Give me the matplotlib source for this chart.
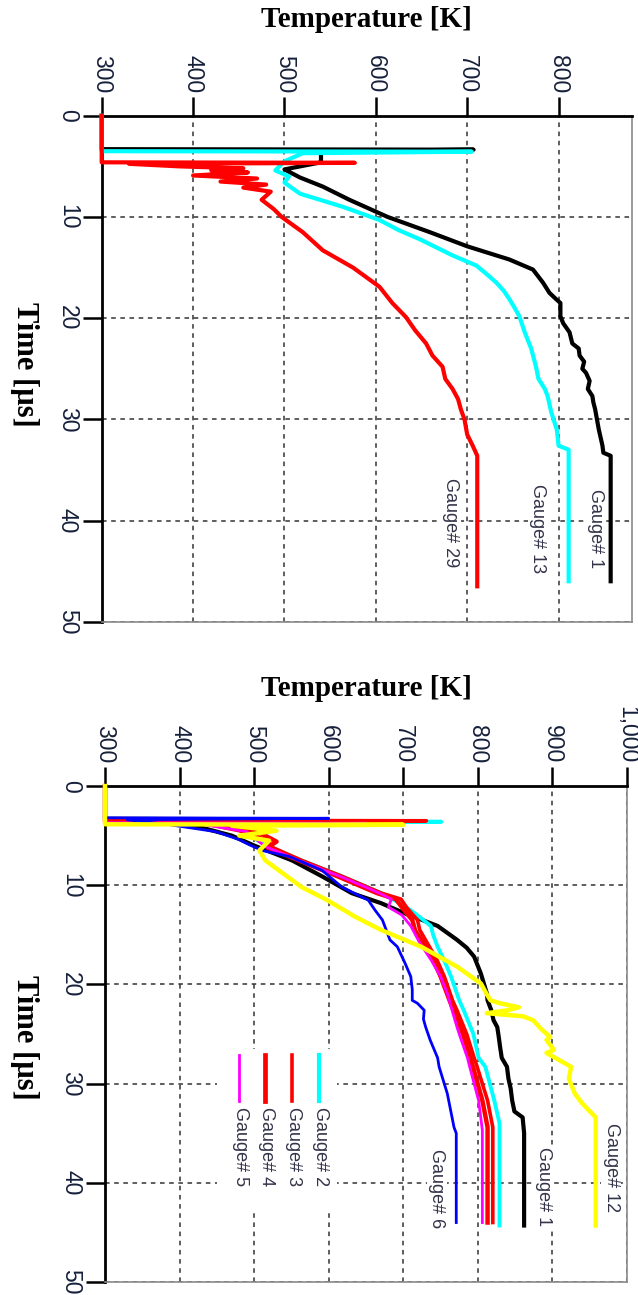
import matplotlib
matplotlib.use('Agg')
import matplotlib.pyplot as plt
from matplotlib.patches import Rectangle

# ---------------- data: upper panel (time in µs, temperature in K) ----------------
top_g1_time = [0, 3.3, 3.35, 3.5, 4.6, 5.3, 6.1, 7.0, 8.3, 10.0, 11.5, 12.9, 14.2, 15.2, 16.5, 17.5,
               18.1, 18.5, 19.8, 20.5, 21.4, 22.5, 23.0, 23.7, 24.3, 25.0, 25.4, 26.2, 27.0, 27.7,
               28.3, 29.0, 30.0, 31.0, 32.6, 33.3, 33.6, 46.0]
top_g1_temp = [300, 300, 707, 540, 540, 500, 517, 542, 571, 613, 659, 700, 746, 772, 783, 790,
               797, 802, 802, 805, 812, 815, 822, 823, 828, 826, 830, 834, 832, 837,
               838, 840, 842, 844, 848, 849, 857, 857]

top_g13_time = [0, 3.5, 3.55, 3.7, 4.5, 5.4, 6.0, 6.6, 7.7, 9.0, 10.3, 11.3, 12.2, 13.8, 14.8, 15.7,
                16.5, 17.3, 18.1, 19.0, 19.8, 21.4, 23.0, 24.7, 26.0, 27.0, 27.7, 29.3, 31.0, 32.6,
                33.0, 46.0]
top_g13_temp = [300, 300, 705, 520, 500, 490, 505, 500, 517, 564, 604, 625, 648, 684, 710, 722,
                732, 740, 746, 752, 757, 763, 770, 775, 778, 785, 788, 792, 798, 800,
                811, 811]

top_g29_time = [0, 4.6, 4.65, 4.75, 5.0, 5.2, 5.4, 5.6, 5.9, 6.2, 6.5, 6.8, 7.1, 7.5, 8.3, 9.2, 10.0,
                11.5, 13.3, 15.0, 16.9, 18.5, 19.9, 21.2, 22.5, 23.7, 24.8, 26.0, 27.0, 28.0, 29.0,
                30.0, 31.5, 32.6, 33.6, 46.5]
top_g29_temp = [300, 300, 577, 330, 385, 455, 420, 460, 400, 470, 430, 480, 455, 485, 475, 488, 497,
                520, 542, 575, 604, 618, 633, 643, 655, 662, 673, 676, 684, 690, 693,
                697, 700, 706, 711, 711]

top_temp_ticks = [300, 400, 500, 600, 700, 800]
top_temp_labels = ['300', '400', '500', '600', '700', '800']

# ---------------- data: lower panel ----------------
bot_g1_time = [0, 3.3, 3.35, 3.5, 4.2, 5.0, 6.0, 7.5, 9.1, 10.8, 11.8, 12.8, 14.1, 15.5, 16.3, 17.2,
               18.9, 20.9, 21.6, 22.6, 23.6, 24.3, 25.3, 26.4, 27.4, 28.3, 29.5, 30.5, 31.7, 32.8,
               33.4, 35.0, 44.3]
bot_g1_temp = [300, 300, 560, 380, 430, 470, 500, 551, 591, 631, 670, 701, 746, 772, 785, 795,
               804, 812, 813, 818, 821, 826, 828, 830, 832, 839, 841, 844, 846, 849,
               860, 862, 862]

bot_g2_time = [0, 3.55, 3.6, 3.7, 4.5, 5.5, 6.1, 7.5, 9.1, 10.8, 12.0, 12.8, 14.1, 15.0, 16.2, 17.6,
               19.2, 21.6, 22.6, 25.0, 27.4, 28.3, 30.0, 31.7, 34.0, 44.3]
bot_g2_temp = [300, 300, 751, 450, 490, 505, 520, 564, 618, 671, 700, 715, 737, 740, 746, 755,
               764, 775, 781, 794, 801, 810, 816, 822, 829, 829]

bot_g3_time = [0, 3.45, 3.5, 3.6, 4.5, 5.5, 6.1, 7.5, 9.1, 10.8, 11.4, 12.3, 13.5, 14.5, 15.8, 17.5,
               19.2, 21.6, 22.6, 25.0, 27.4, 28.3, 31.7, 34.4, 44.0]
bot_g3_temp = [300, 300, 731, 420, 480, 520, 522, 564, 618, 671, 697, 705, 719, 722, 732, 745,
               755, 766, 772, 785, 795, 799, 813, 820, 820]

bot_g4_time = [0, 3.62, 3.67, 3.77, 4.8, 5.6, 6.2, 7.5, 9.1, 10.8, 11.4, 12.4, 13.5, 14.6, 15.8,
               17.5, 19.2, 21.6, 25.0, 27.4, 31.7, 34.4, 44.0]
bot_g4_temp = [300, 300, 700, 440, 510, 530, 518, 560, 612, 665, 690, 700, 712, 716, 727,
               740, 750, 762, 780, 790, 806, 813, 813]

bot_g5_time = [0, 3.7, 3.75, 3.85, 4.6, 5.5, 6.1, 7.5, 9.1, 10.2, 10.8, 11.4, 12.2, 13.0, 14.1,
               15.8, 17.5, 19.2, 20.9, 22.5, 24.3, 25.0, 27.4, 28.3, 31.7, 34.7, 44.0]
bot_g5_temp = [300, 300, 650, 430, 490, 505, 515, 560, 615, 650, 668, 684, 680, 698, 710,
               722, 737, 750, 759, 765, 772, 775, 786, 789, 801, 806, 806]

bot_g6_time = [0, 3.2, 3.25, 3.4, 3.9, 4.6, 5.4, 5.9, 6.5, 7.1, 8.5, 10.2, 11.5, 12.5, 13.5, 15.5,
               16.2, 17.8, 19.2, 20.5, 21.6, 21.9, 22.6, 23.5, 24.3, 25.6, 27.4, 28.3, 31.0, 34.4,
               35.0, 44.0]
bot_g6_temp = [300, 300, 600, 330, 387, 449, 480, 493, 511, 547, 591, 618, 653, 662, 672, 682,
               692, 702, 710, 712, 712, 719, 728, 727, 730, 736, 746, 748, 759, 768,
               771, 771]

bot_g12_time = [0, 3.85, 3.9, 4.0, 4.5, 5.0, 5.5, 6.5, 7.5, 10.2, 11.5, 13.2, 14.5, 16.2, 18.2, 19.9,
                21.0, 21.6, 21.9, 22.3, 22.6, 22.9, 23.2, 23.6, 24.5, 25.3, 25.6, 26.6, 26.9, 28.3,
                29.5, 31.0, 32.0, 33.4, 34.4, 44.3]
bot_g12_temp = [300, 300, 700, 470, 530, 480, 520, 507, 515, 564, 598, 636, 670, 724, 772, 804,
                812, 817, 830, 855, 840, 812, 860, 874, 885, 897, 892, 902, 892, 925,
                922, 930, 940, 958, 958, 958]

bot_temp_ticks = [300, 400, 500, 600, 700, 800, 900, 1000]
bot_temp_labels = ['300', '400', '500', '600', '700', '800', '900', '1,000']

time_ticks = [0, 10, 20, 30, 40, 50]
time_labels = ['0', '10', '20', '30', '40', '50']

# ---------------- figure ----------------
fig = plt.figure(figsize=(6.38, 12.95), dpi=100)
ax1 = fig.add_axes([0.1594, 0.5199, 0.8307, 0.3907])
ax2 = fig.add_axes([0.1646, 0.0100, 0.8182, 0.3830])

TICKFONT = 'Liberation Sans'
LABELCOLOR = '#33334a'


def style(ax, xmax, xticks, xlabels):
    ax.set_xlim(300, xmax)
    ax.set_ylim(50, 0)
    ax.xaxis.tick_top()
    ax.set_xticks(xticks)
    ax.set_xticklabels(xlabels, rotation=-90, ha='center', va='bottom',
                       fontsize=16.5, family=TICKFONT, color='#16203a')
    ax.set_yticks(time_ticks)
    ax.set_yticklabels(time_labels, rotation=-90, ha='right', va='center',
                       fontsize=16.5, family=TICKFONT, color='#16203a')
    ax.tick_params(axis='both', direction='out', length=13.5, width=1.8, pad=3, color='black')
    ax.grid(True, linestyle=(0, (3, 3)), color='#333333', linewidth=1.1)
    ax.set_axisbelow(True)
    for s in ['top', 'left']:
        ax.spines[s].set_color('black')
        ax.spines[s].set_linewidth(2.0)
    for s in ['bottom', 'right']:
        ax.spines[s].set_color('#8a8a8a')
        ax.spines[s].set_linewidth(1.2)


def gauge_text(ax, x, y, s):
    ax.text(x, y, s, rotation=-90, ha='center', va='top', fontsize=13, family=TICKFONT,
            color=LABELCOLOR, zorder=4,
            bbox=dict(facecolor='white', edgecolor='none', pad=1.0))


style(ax1, 880, top_temp_ticks, top_temp_labels)
style(ax2, 1000, bot_temp_ticks, bot_temp_labels)

# upper panel curves
ax1.plot(top_g1_temp, top_g1_time, color='black', lw=3.0, zorder=3, clip_on=False)
ax1.plot(top_g13_temp, top_g13_time, color='#00ffff', lw=3.0, zorder=3, clip_on=False)
ax1.plot(top_g29_temp, top_g29_time, color='#ff0000', lw=3.0, zorder=3, clip_on=False)

gauge_text(ax1, 840, 36.9, 'Gauge# 1')
gauge_text(ax1, 777, 36.4, 'Gauge# 13')
gauge_text(ax1, 682, 35.8, 'Gauge# 29')

# lower panel curves
ax2.plot(bot_g1_temp, bot_g1_time, color='black', lw=3.0, zorder=3, clip_on=False)
ax2.plot(bot_g2_temp, bot_g2_time, color='#00ffff', lw=2.8, zorder=3, clip_on=False)
ax2.plot(bot_g3_temp, bot_g3_time, color='#ff0000', lw=2.6, zorder=3, clip_on=False)
ax2.plot(bot_g4_temp, bot_g4_time, color='#ff0000', lw=3.2, zorder=3, clip_on=False)
ax2.plot(bot_g5_temp, bot_g5_time, color='#ff00ff', lw=2.0, zorder=3, clip_on=False)
ax2.plot(bot_g6_temp, bot_g6_time, color='#0000ff', lw=2.0, zorder=3, clip_on=False)
ax2.plot(bot_g12_temp, bot_g12_time, color='#ffff00', lw=3.2, zorder=3, clip_on=False)

gauge_text(ax2, 979, 34.0, 'Gauge# 12')
gauge_text(ax2, 888, 36.4, 'Gauge# 1')
gauge_text(ax2, 745, 36.6, 'Gauge# 6')

# legend block (white background, short line samples, rotated labels)
ax2.add_patch(Rectangle((450, 26.5), 161, 16.3, facecolor='white', edgecolor='none', zorder=1.5))
legend_colors = ['#00ffff', '#ff0000', '#ff0000', '#ff00ff']
legend_widths = [3.0, 2.6, 3.4, 2.0]
legend_names = ['Gauge# 2', 'Gauge# 3', 'Gauge# 4', 'Gauge# 5']
legend_x = [587, 551, 515, 480]
for c, w, n, x in zip(legend_colors, legend_widths, legend_names, legend_x):
    ax2.plot([x, x], [27.1, 31.7], color=c, lw=w, zorder=3)
    ax2.text(x + 2, 32.4, n, rotation=-90, ha='center', va='top', fontsize=13,
             family=TICKFONT, color=LABELCOLOR, zorder=4)

# axis titles
for yc in [0.9846, 0.4687]:
    fig.text(0.574, yc, 'Temperature [K]', ha='center', va='center', fontsize=21,
             fontweight='bold', family='Liberation Serif')
for yc in [0.719, 0.199]:
    fig.text(0.038, yc, 'Time [µs]', ha='center', va='center', fontsize=22, rotation=-90,
             fontweight='bold', family='Liberation Serif')

fig.savefig('out.png', dpi=100)
